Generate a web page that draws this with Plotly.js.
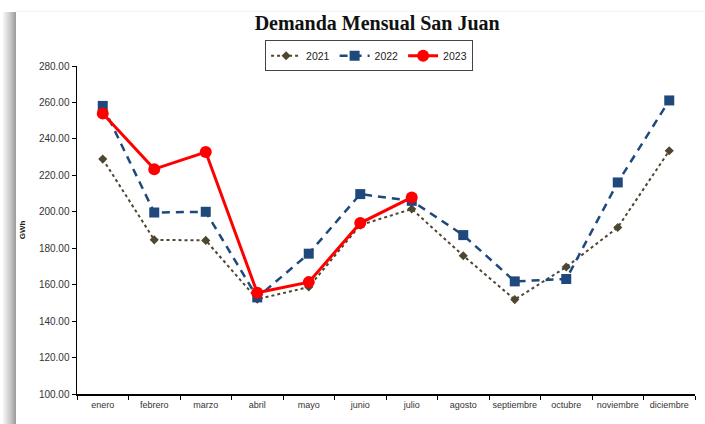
<!DOCTYPE html>
<html><head><meta charset="utf-8">
<script src="https://cdn.plot.ly/plotly-3.0.1.min.js"></script>
<style>
html,body{margin:0;padding:0;background:#fff;}
#wrap{position:relative;width:705px;height:424px;}
#shadow{position:absolute;left:2px;top:12px;width:14px;height:412px;background:linear-gradient(to right,#ffffff,#c8c8c8 60%,#9a9a9a);}
#topline{position:absolute;left:16px;top:10px;width:689px;height:2px;background:linear-gradient(to bottom,#ffffff,#f2f2f2);}
#chart{position:absolute;left:0;top:0;width:705px;height:424px;}
</style></head>
<body><div id="wrap"><div id="shadow"></div><div id="topline"></div><div id="chart"></div></div>
<script>
const months = ['enero','febrero','marzo','abril','mayo','junio','julio','agosto','septiembre','octubre','noviembre','diciembre'];
const y2021 = [228.9,184.6,184.3,152.0,158.7,192.7,201.5,175.9,151.8,169.7,191.4,233.5];
const y2022 = [258.1,199.6,200.0,153.0,177.0,209.7,206.0,187.2,161.8,163.1,216.1,261.1];
const months2023 = ['enero','febrero','marzo','abril','mayo','junio','julio'];
const y2023 = [253.9,223.4,232.8,155.6,161.4,193.8,207.9];

const traces = [
  {x: months, y: y2021, name: '2021', type: 'scatter', mode: 'lines+markers',
   line: {color: '#4f4630', width: 2, dash: 'dot'},
   marker: {symbol: 'diamond', size: 7, color: '#4f4630'}},
  {x: months, y: y2022, name: '2022', type: 'scatter', mode: 'lines+markers',
   line: {color: '#1f497d', width: 2.5, dash: '8px,6px'},
   marker: {symbol: 'square', size: 10, color: '#1f497d'}},
  {x: months2023, y: y2023, name: '2023', type: 'scatter', mode: 'lines+markers',
   line: {color: '#ff0000', width: 3},
   marker: {symbol: 'circle', size: 12, color: '#ff0000'}}
];

const layout = {
  width: 705, height: 424,
  paper_bgcolor: 'rgba(0,0,0,0)', plot_bgcolor: '#ffffff',
  margin: {l: 77, r: 10, t: 66, b: 30, autoexpand: false},
  font: {family: 'Liberation Sans, Arial, sans-serif', color: '#333333', size: 10},
  title: {text: '<b>Demanda Mensual San Juan</b>', x: 0.535, xref: 'container', xanchor: 'center',
          y: 0.946, yref: 'container', yanchor: 'middle',
          font: {family: 'Liberation Serif, serif', size: 20, color: '#111111'}},
  showlegend: true,
  legend: {orientation: 'h', xref: 'container', yref: 'container', x: 0.376, y: 0.905,
           xanchor: 'left', yanchor: 'top', bordercolor: '#444444', borderwidth: 1,
           bgcolor: '#ffffff', font: {size: 10.5, color: '#222222'},
           itemwidth: 30, tracegroupgap: 0},
  xaxis: {type: 'category', categoryarray: months, categoryorder: 'array', automargin: false,
          showline: true, linecolor: '#000000', linewidth: 1.5, showgrid: false, zeroline: false,
          ticks: 'outside', tickson: 'boundaries', ticklen: 4, tickcolor: '#000000', tickangle: 0,
          ticklabelstandoff: 2,
          tickfont: {size: 9, color: '#333333'}, range: [-0.5, 11.5]},
  yaxis: {range: [100, 280], dtick: 20, tickformat: '.2f', showline: true, linecolor: '#000000',
          automargin: false,
          linewidth: 1.5, showgrid: false, zeroline: false, ticks: 'outside', ticklen: 4,
          tickcolor: '#000000', tickfont: {size: 10, color: '#333333'},
          title: {text: '<b>GWh</b>', font: {size: 8, color: '#222222'}, standoff: 12}}
};

Plotly.newPlot('chart', traces, layout, {displayModeBar: false, staticPlot: true});
</script></body></html>
